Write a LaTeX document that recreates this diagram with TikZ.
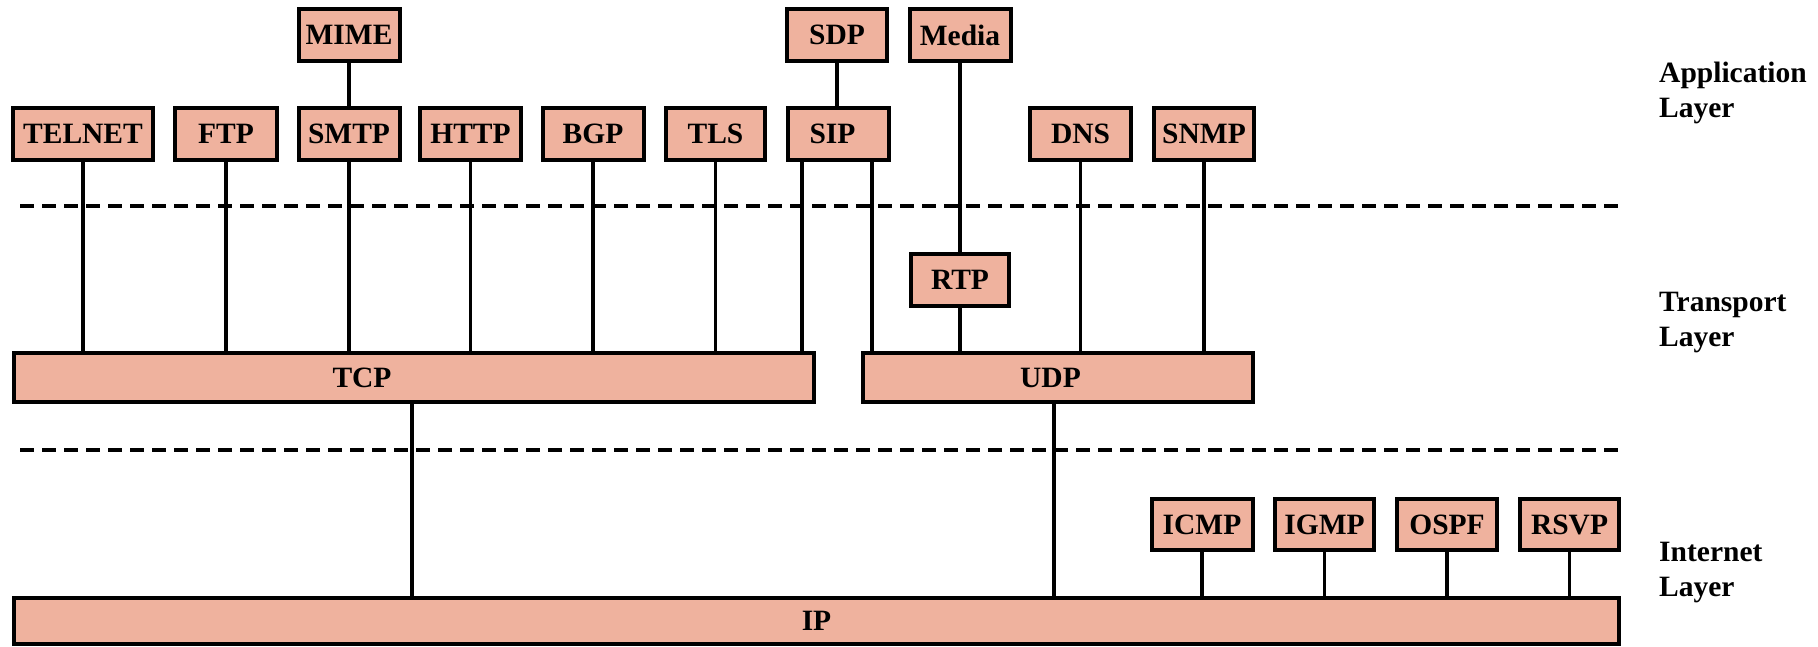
\documentclass[tikz,border=0pt]{standalone}
\usepackage{fontspec}
\setmainfont{Liberation Serif}
\definecolor{boxfill}{RGB}{239,178,158}
\newcommand{\protofont}{\fontsize{29.5pt}{35pt}\selectfont\bfseries}
\tikzset{
  proto/.style={draw, line width=4pt, fill=boxfill, inner sep=0pt,
    minimum height=52pt, font=\protofont},
  link/.style={line width=3.8pt},
  layersep/.style={line width=4pt, dash pattern=on 13.5pt off 8.5pt},
  layername/.style={anchor=base west, inner sep=0pt, font=\protofont},
}
\begin{document}
\begin{tikzpicture}[x=1pt, y=-1pt]
  \fill[white] (0,0) rectangle (1818,646);
  \useasboundingbox (0,0) rectangle (1818,646);

  % layer separators
  \draw[layersep] (20,205.5) -- (1620,205.5);
  \draw[layersep] (20,450) -- (1620,450);

  % application layer, upper row
  \node[proto, minimum width=101pt] (mime)  at (349,35)   {MIME};
  \node[proto, minimum width=100pt] (sdp)   at (837,35)   {SDP};
  \node[proto, minimum width=101pt] (media) at (960,35)   {Media};

  % application layer, main row
  \node[proto, minimum width=140pt] (telnet) at (83,134)    {TELNET};
  \node[proto, minimum width=102pt] (ftp)    at (226,134)   {FTP};
  \node[proto, minimum width=101pt] (smtp)   at (349,134)   {SMTP};
  \node[proto, minimum width=101pt] (http)   at (470.5,134) {HTTP};
  \node[proto, minimum width=101pt] (bgp)    at (593,134)   {BGP};
  \node[proto, minimum width=99pt]  (tls)    at (715.5,134) {TLS};
  \node[proto, minimum width=101pt, label={[font=\protofont, xshift=-6pt]center:SIP}] (sip) at (838.5,134) {};
  \node[proto, minimum width=101pt] (dns)    at (1080.5,134) {DNS};
  \node[proto, minimum width=100pt] (snmp)   at (1204,134)  {SNMP};

  % transport layer
  \node[proto, minimum width=98pt] (rtp) at (960,280) {RTP};
  \node[proto, minimum width=800pt, minimum height=49pt,
        label={[font=\protofont, xshift=-52pt]center:TCP}] (tcp) at (414,377.5) {};
  \node[proto, minimum width=390pt, minimum height=49pt,
        label={[font=\protofont, xshift=-7pt]center:UDP}] (udp) at (1057.5,377.5) {};

  % internet layer
  \node[proto, minimum width=101pt, minimum height=51pt] (icmp) at (1202,524.5)   {ICMP};
  \node[proto, minimum width=99pt,  minimum height=51pt] (igmp) at (1324.5,524.5) {IGMP};
  \node[proto, minimum width=100pt, minimum height=51pt] (ospf) at (1447,524.5)   {OSPF};
  \node[proto, minimum width=99pt,  minimum height=51pt] (rsvp) at (1569.5,524.5) {RSVP};
  \node[proto, minimum width=1605pt, minimum height=46pt] (ip) at (816.5,621) {IP};

  % layer names
  \node[layername] (appA) at (1659,82)  {Application};
  \node[layername] (appB) at (1659,117) {Layer};
  \node[layername] (trnA) at (1659,311) {Transport};
  \node[layername] (trnB) at (1659,346) {Layer};
  \node[layername] (intA) at (1659,561) {Internet};
  \node[layername] (intB) at (1659,596) {Layer};

  % stacked application protocols
  \draw[link] (mime.south) -- (smtp.north);
  \draw[link] (sdp.south) -- (sdp.south |- sip.north);
  \draw[link] (media.south) -- (rtp.north);

  % applications over TCP
  \foreach \p in {telnet, ftp, smtp, http, bgp, tls}
    \draw[link] (\p.south) -- (\p.south |- tcp.north);
  \draw[link] ([xshift=-36.5pt]sip.south) -- ([xshift=-36.5pt]sip.south |- tcp.north);

  % applications over UDP
  \draw[link] ([xshift=33.5pt]sip.south) -- ([xshift=33.5pt]sip.south |- udp.north);
  \draw[link] (rtp.south) -- (rtp.south |- udp.north);
  \draw[link] (dns.south) -- (dns.south |- udp.north);
  \draw[link] (snmp.south) -- (snmp.south |- udp.north);

  % transports over IP
  \draw[link] ([xshift=-2pt]tcp.south) -- ([xshift=-2pt]tcp.south |- ip.north);
  \draw[link] ([xshift=-3.5pt]udp.south) -- ([xshift=-3.5pt]udp.south |- ip.north);

  % internet-layer protocols over IP
  \foreach \p in {icmp, igmp, ospf, rsvp}
    \draw[link] (\p.south) -- (\p.south |- ip.north);
\end{tikzpicture}
\end{document}
